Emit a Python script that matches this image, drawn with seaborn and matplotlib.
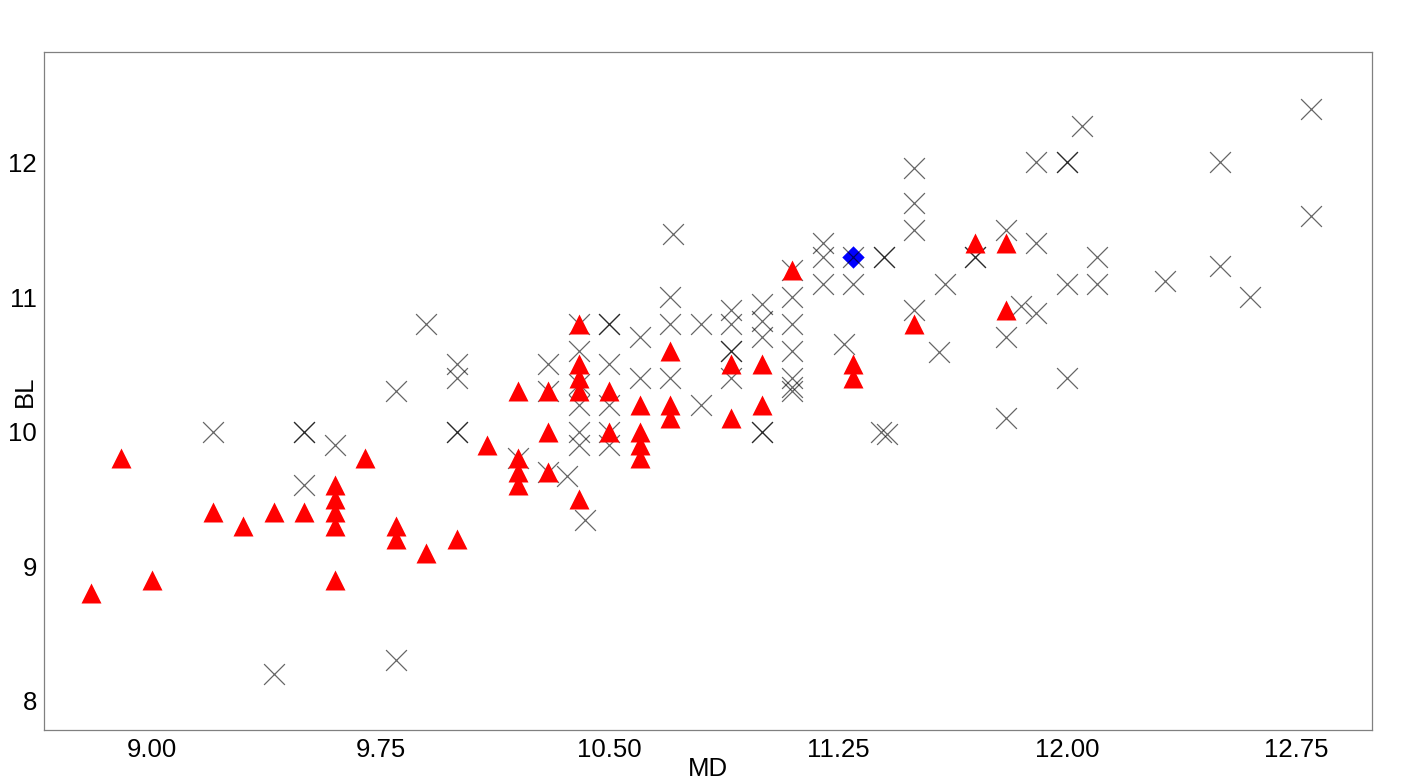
import numpy as np
import pandas as pd
import matplotlib
matplotlib.use("Agg")
import matplotlib.pyplot as plt
import seaborn as sns

# Red triangles
tri_md = [8.8, 8.9, 9.0, 9.2, 9.3, 9.4, 9.5,
          9.6, 9.6, 9.6, 9.6, 9.6, 9.7, 9.8, 9.8, 9.9, 10.0, 10.1,
          10.2, 10.2, 10.2, 10.2, 10.3, 10.3, 10.3,
          10.4, 10.4, 10.4, 10.4, 10.4, 10.5, 10.5,
          10.6, 10.6, 10.6, 10.6, 10.7, 10.7, 10.7,
          10.9, 10.9, 11.0, 11.0, 11.1, 11.3, 11.3,
          11.5, 11.7, 11.8, 11.8]
tri_bl = [8.8, 9.8, 8.9, 9.4, 9.3, 9.4, 9.4,
          9.6, 9.5, 9.4, 9.3, 8.9, 9.8, 9.3, 9.2, 9.1, 9.2, 9.9,
          10.3, 9.8, 9.7, 9.6, 10.3, 10.0, 9.7,
          10.8, 10.5, 10.4, 10.3, 9.5, 10.3, 10.0,
          10.2, 10.0, 9.9, 9.8, 10.6, 10.2, 10.1,
          10.5, 10.1, 10.5, 10.2, 11.2, 10.5, 10.4,
          10.8, 11.4, 11.4, 10.9]

# Black crosses
cross_md = [9.2, 9.4, 9.5, 9.5, 9.5, 9.6, 9.8, 9.8, 9.9,
            10.0, 10.0, 10.0, 10.0, 10.2, 10.3, 10.3, 10.3, 10.36, 10.42,
            10.4, 10.4, 10.4, 10.4, 10.4, 10.4,
            10.5, 10.5, 10.5, 10.5, 10.5, 10.5,
            10.6, 10.6, 10.7, 10.7, 10.7, 10.71, 10.8, 10.8,
            10.9, 10.9, 10.9, 10.9, 10.9,
            11.0, 11.0, 11.0, 11.0, 11.0,
            11.1, 11.1, 11.1, 11.1, 11.1, 11.1, 11.1,
            11.2, 11.2, 11.2, 11.27, 11.3, 11.3, 11.4, 11.4, 11.39, 11.41,
            11.5, 11.5, 11.5, 11.5, 11.58, 11.6, 11.7, 11.7,
            11.8, 11.8, 11.8, 11.85, 11.9, 11.9, 11.9,
            12.0, 12.0, 12.0, 12.0, 12.05, 12.1, 12.1, 12.32,
            12.5, 12.5, 12.6, 12.8, 12.8]
cross_bl = [10.0, 8.2, 10.0, 10.0, 9.6, 9.9, 10.3, 8.3, 10.8,
            10.5, 10.4, 10.0, 10.0, 9.8, 10.5, 10.3, 9.7, 9.67, 9.34,
            10.8, 10.6, 10.35, 10.2, 10.0, 9.9,
            10.8, 10.8, 10.5, 10.2, 10.0, 9.9,
            10.7, 10.4, 11.0, 10.8, 10.4, 11.47, 10.8, 10.2,
            10.9, 10.8, 10.6, 10.6, 10.4,
            10.95, 10.82, 10.7, 10.0, 10.0,
            11.2, 11.0, 10.8, 10.6, 10.4, 10.33, 10.3,
            11.4, 11.3, 11.1, 10.65, 11.3, 11.1, 11.3, 11.3, 10.0, 9.98,
            11.96, 11.7, 11.5, 10.9, 10.59, 11.1, 11.3, 11.3,
            11.5, 10.7, 10.1, 10.93, 10.88, 12.0, 11.4,
            12.0, 12.0, 11.1, 10.4, 12.27, 11.3, 11.1, 11.12,
            12.0, 11.23, 11.0, 12.4, 11.6]

# Blue diamond
dia_md = [11.3]
dia_bl = [11.3]

x_ticks = [9.00, 9.75, 10.50, 11.25, 12.00, 12.75]
y_ticks = [8, 9, 10, 11, 12]

tri = pd.DataFrame({"MD": tri_md, "BL": tri_bl})
cross = pd.DataFrame({"MD": cross_md, "BL": cross_bl})
dia = pd.DataFrame({"MD": dia_md, "BL": dia_bl})

sns.set_theme(style="white")
plt.rcParams['font.family'] = ['Liberation Sans', 'DejaVu Sans']

fig = plt.figure(figsize=(14.17, 7.83), dpi=100)
ax = fig.add_axes([0.0311, 0.0677, 0.9372, 0.8659])

sns.scatterplot(data=dia, x="MD", y="BL", ax=ax, marker="D", color="#0000ff",
                s=130, linewidth=0, zorder=3)
sns.scatterplot(data=cross, x="MD", y="BL", ax=ax, marker="x", color="black",
                s=225, linewidth=0.9, alpha=0.6, zorder=4)
sns.scatterplot(data=tri, x="MD", y="BL", ax=ax, marker="^", color="#ff0000",
                s=207, linewidth=0, zorder=5)

ax.set_xlim(8.6475, 13.0)
ax.set_ylim(7.782, 12.821)
ax.set_xticks(x_ticks)
ax.set_xticklabels([f"{t:.2f}" for t in x_ticks])
ax.set_yticks(y_ticks)
ax.set_yticklabels([str(t) for t in y_ticks])

for sp in ax.spines.values():
    sp.set_visible(True)
    sp.set_color("#808080")
    sp.set_linewidth(0.9)

ax.tick_params(axis="both", direction="out", length=3, width=0.8,
               color="#808080", labelsize=18.5, labelcolor="black")
ax.tick_params(axis="x", pad=3)
ax.tick_params(axis="y", pad=2)

ax.set_xlabel("MD", fontsize=18.5, color="black")
ax.set_ylabel("BL", fontsize=18.5, color="black")
ax.xaxis.set_label_coords(0.5, -0.0405)
ax.yaxis.set_label_coords(-0.0055, 0.5)

fig.savefig("out.png", dpi=100)
